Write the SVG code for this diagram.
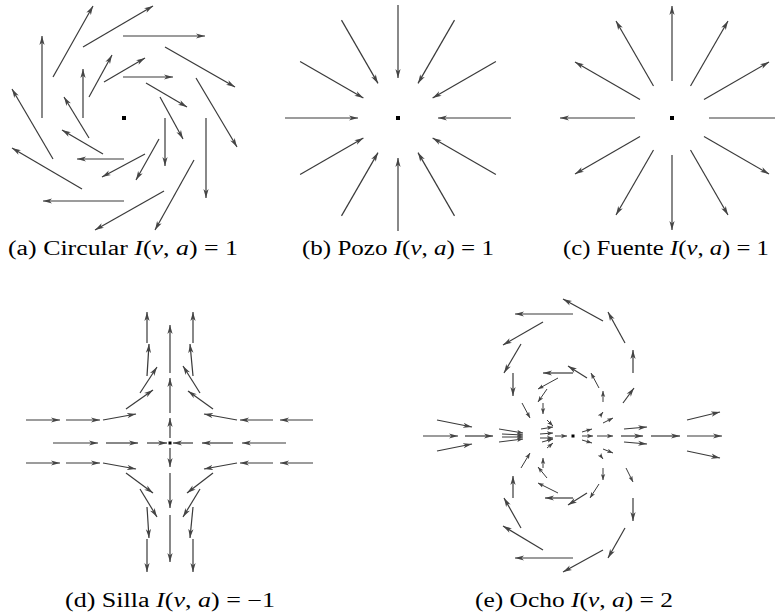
<svg xmlns="http://www.w3.org/2000/svg" width="775" height="616" viewBox="0 0 775 616">
<defs>
<marker id="ah" markerUnits="userSpaceOnUse" markerWidth="10" markerHeight="6" refX="9" refY="3" orient="auto">
<path d="M0,0.4 L9,3 L0,5.6 L2.5,3 Z" fill="#444"/>
</marker>
<marker id="as" markerUnits="userSpaceOnUse" markerWidth="7" markerHeight="5" refX="6" refY="2.5" orient="auto">
<path d="M0,0.3 L6,2.5 L0,4.7 L1.5,2.5 Z" fill="#444"/>
</marker>
</defs>
<style>
.v line{stroke:#3a3a3a;stroke-width:1.2;marker-end:url(#ah);fill:none}
.v.t line{stroke-width:1;marker-end:url(#as)}
.c{fill:#000}
text{font-family:"Liberation Serif","Times New Roman",serif;font-size:20px;fill:#000}
.i{font-style:italic}
</style>
<rect width="775" height="616" fill="#fff"/>

<g id="panel-a" class="v">
<line x1="123" y1="36" x2="205" y2="36"/>
<line x1="165" y1="47" x2="235" y2="87"/>
<line x1="196" y1="78" x2="237" y2="147"/>
<line x1="206" y1="118" x2="206" y2="198"/>
<line x1="194" y1="160" x2="155" y2="230"/>
<line x1="164" y1="191" x2="95" y2="230"/>
<line x1="124" y1="201" x2="43" y2="201"/>
<line x1="82" y1="189" x2="12" y2="148"/>
<line x1="53" y1="159" x2="12" y2="89"/>
<line x1="42" y1="118" x2="42" y2="36"/>
<line x1="53" y1="77" x2="93" y2="6"/>
<line x1="83" y1="47" x2="153" y2="6"/>
<line x1="123" y1="77" x2="173" y2="77"/>
<line x1="146" y1="83" x2="187" y2="107"/>
<line x1="160" y1="97" x2="183" y2="139"/>
<line x1="165" y1="118" x2="165" y2="166"/>
<line x1="159" y1="139" x2="136" y2="180"/>
<line x1="145" y1="154" x2="102" y2="177"/>
<line x1="124" y1="159" x2="77" y2="159"/>
<line x1="103" y1="154" x2="62" y2="130"/>
<line x1="89" y1="138" x2="64" y2="97"/>
<line x1="83" y1="118" x2="83" y2="69"/>
<line x1="89" y1="97" x2="112" y2="55"/>
<line x1="104" y1="82" x2="145" y2="58"/>
<rect class="c" x="122" y="116" width="4" height="4"/>
</g>

<g id="panel-b" class="v">
<line x1="511" y1="118" x2="438" y2="118"/>
<line x1="495.9" y1="61.5" x2="432.6" y2="98"/>
<line x1="454.5" y1="20.1" x2="418" y2="83.4"/>
<line x1="398" y1="5" x2="398" y2="78"/>
<line x1="341.5" y1="20.1" x2="378" y2="83.4"/>
<line x1="300.1" y1="61.5" x2="363.4" y2="98"/>
<line x1="285" y1="118" x2="358" y2="118"/>
<line x1="300.1" y1="174.5" x2="363.4" y2="138"/>
<line x1="341.5" y1="215.9" x2="378" y2="152.6"/>
<line x1="398" y1="231" x2="398" y2="158"/>
<line x1="454.5" y1="215.9" x2="418" y2="152.6"/>
<line x1="495.9" y1="174.5" x2="432.6" y2="138"/>
<rect class="c" x="396" y="116" width="4" height="4"/>
</g>

<g id="panel-c" class="v">
<line x1="709" y1="118" x2="784" y2="118"/>
<line x1="704" y1="99.5" x2="769" y2="62"/>
<line x1="690.5" y1="86" x2="728" y2="21"/>
<line x1="672" y1="81" x2="672" y2="6"/>
<line x1="653.5" y1="86" x2="616" y2="21"/>
<line x1="640" y1="99.5" x2="575" y2="62"/>
<line x1="635" y1="118" x2="560" y2="118"/>
<line x1="640" y1="136.5" x2="575" y2="174"/>
<line x1="653.5" y1="150" x2="616" y2="215"/>
<line x1="672" y1="155" x2="672" y2="230"/>
<line x1="690.5" y1="150" x2="728" y2="215"/>
<line x1="704" y1="136.5" x2="769" y2="174"/>
<rect class="c" x="670" y="116" width="4" height="4"/>
</g>

<g id="panel-d" class="v">
<line x1="53" y1="443" x2="98" y2="443"/>
<line x1="106" y1="443" x2="138" y2="443"/>
<line x1="147" y1="443" x2="167" y2="443"/>
<line x1="286" y1="443" x2="242" y2="443"/>
<line x1="233" y1="443" x2="202" y2="443"/>
<line x1="193" y1="443" x2="173" y2="443"/>
<line x1="26" y1="420" x2="60" y2="420"/>
<line x1="66" y1="420" x2="100" y2="420"/>
<line x1="103" y1="420" x2="136" y2="414"/>
<line x1="313" y1="420" x2="280" y2="420"/>
<line x1="273" y1="420" x2="240" y2="420"/>
<line x1="237" y1="420" x2="204" y2="414"/>
<line x1="26" y1="463" x2="60" y2="463"/>
<line x1="66" y1="463" x2="100" y2="463"/>
<line x1="103" y1="463" x2="136" y2="469"/>
<line x1="313" y1="463" x2="280" y2="463"/>
<line x1="273" y1="463" x2="240" y2="463"/>
<line x1="237" y1="463" x2="204" y2="469"/>
<line x1="170" y1="438" x2="170" y2="418"/>
<line x1="170" y1="413" x2="170" y2="378"/>
<line x1="170" y1="373" x2="170" y2="325"/>
<line x1="170" y1="448" x2="170" y2="467"/>
<line x1="170" y1="473" x2="170" y2="508"/>
<line x1="170" y1="515" x2="170" y2="562"/>
<line x1="147" y1="343" x2="147" y2="312"/>
<line x1="147" y1="376" x2="149" y2="344"/>
<line x1="140" y1="393" x2="157" y2="367"/>
<line x1="126" y1="409" x2="153" y2="390"/>
<line x1="126" y1="473" x2="153" y2="493"/>
<line x1="140" y1="489" x2="157" y2="517"/>
<line x1="147" y1="507" x2="149" y2="538"/>
<line x1="147" y1="539" x2="147" y2="572"/>
<line x1="193" y1="343" x2="193" y2="312"/>
<line x1="193" y1="376" x2="190" y2="344"/>
<line x1="200" y1="393" x2="183" y2="366"/>
<line x1="213" y1="409" x2="188" y2="391"/>
<line x1="213" y1="473" x2="187" y2="493"/>
<line x1="200" y1="489" x2="183" y2="517"/>
<line x1="193" y1="507" x2="190" y2="538"/>
<line x1="193" y1="539" x2="193" y2="572"/>
<rect class="c" x="168.5" y="441.5" width="3" height="3"/>
</g>

<g id="panel-e" class="v">
<line x1="423" y1="436" x2="458" y2="436"/>
<line x1="465" y1="436" x2="493" y2="436"/>
<line x1="437" y1="420" x2="472" y2="427"/>
<line x1="437" y1="451" x2="472" y2="444"/>
<line x1="687" y1="436" x2="722" y2="436"/>
<line x1="651" y1="436" x2="680" y2="436"/>
<line x1="687" y1="420" x2="720" y2="412"/>
<line x1="687" y1="451" x2="720" y2="458"/>
<line x1="621" y1="436" x2="643" y2="436"/>
<line x1="624" y1="429" x2="647" y2="427"/>
<line x1="624" y1="442" x2="647" y2="444"/>
<line x1="633" y1="373" x2="633" y2="350"/>
<line x1="625" y1="343" x2="608" y2="312"/>
<line x1="603" y1="321" x2="563" y2="299"/>
<line x1="573" y1="314" x2="515" y2="314"/>
<line x1="543" y1="322" x2="503" y2="345"/>
<line x1="521" y1="344" x2="504" y2="373"/>
<line x1="513" y1="373" x2="513" y2="396"/>
<line x1="623" y1="403" x2="634" y2="388"/>
<line x1="513" y1="498" x2="513" y2="476"/>
<line x1="521" y1="528" x2="504" y2="498"/>
<line x1="543" y1="550" x2="503" y2="526"/>
<line x1="573" y1="558" x2="515" y2="558"/>
<line x1="603" y1="550" x2="563" y2="572"/>
<line x1="625" y1="528" x2="608" y2="558"/>
<line x1="633" y1="498" x2="633" y2="521"/>
<line x1="573" y1="373" x2="543" y2="373"/>
<line x1="587" y1="378" x2="568" y2="366"/>
<line x1="573" y1="498" x2="545" y2="498"/>
<line x1="587" y1="493" x2="568" y2="505"/>
<rect class="c" x="571.5" y="434.5" width="3" height="3"/>
</g>
<g id="panel-e-small" class="v t">
<line x1="499" y1="429" x2="523" y2="433"/>
<line x1="502" y1="434" x2="523" y2="435"/>
<line x1="502" y1="437" x2="523" y2="437"/>
<line x1="499" y1="442" x2="523" y2="439"/>
<line x1="522" y1="403" x2="530" y2="418"/>
<line x1="521" y1="468" x2="530" y2="453"/>
<line x1="626" y1="468" x2="633" y2="482"/>
<line x1="603" y1="402" x2="603" y2="391"/>
<line x1="599" y1="388" x2="591" y2="373"/>
<line x1="558" y1="378" x2="538" y2="389"/>
<line x1="547" y1="389" x2="538" y2="402"/>
<line x1="543" y1="403" x2="543" y2="414"/>
<line x1="603" y1="468" x2="603" y2="480"/>
<line x1="599" y1="484" x2="590" y2="498"/>
<line x1="558" y1="493" x2="538" y2="483"/>
<line x1="547" y1="478" x2="538" y2="467"/>
<line x1="543" y1="468" x2="543" y2="458"/>
<line x1="547" y1="420" x2="553" y2="426"/>
<line x1="541" y1="429" x2="553" y2="427"/>
<line x1="540" y1="434" x2="553" y2="433"/>
<line x1="540" y1="438" x2="553" y2="438"/>
<line x1="542" y1="442" x2="553" y2="439"/>
<line x1="547" y1="448" x2="553" y2="443"/>
<line x1="555" y1="436" x2="567" y2="436"/>
<line x1="582" y1="432" x2="592" y2="429"/>
<line x1="582" y1="436" x2="593" y2="436"/>
<line x1="582" y1="440" x2="592" y2="443"/>
<line x1="597" y1="436" x2="613" y2="436"/>
<line x1="600" y1="416" x2="603" y2="412"/>
<line x1="603" y1="423" x2="613" y2="418"/>
<line x1="603" y1="449" x2="613" y2="453"/>
<line x1="600" y1="455" x2="603" y2="459"/>
</g>

<g id="captions">
<text x="123" y="255" text-anchor="middle" textLength="230" lengthAdjust="spacingAndGlyphs">(a) Circular <tspan class="i">I</tspan>(<tspan class="i">v</tspan>, <tspan class="i">a</tspan>) = 1</text>
<text x="398" y="255" text-anchor="middle" textLength="192" lengthAdjust="spacingAndGlyphs">(b) Pozo <tspan class="i">I</tspan>(<tspan class="i">v</tspan>, <tspan class="i">a</tspan>) = 1</text>
<text x="666" y="255" text-anchor="middle" textLength="206" lengthAdjust="spacingAndGlyphs">(c) Fuente <tspan class="i">I</tspan>(<tspan class="i">v</tspan>, <tspan class="i">a</tspan>) = 1</text>
<text x="170" y="607" text-anchor="middle" textLength="210" lengthAdjust="spacingAndGlyphs">(d) Silla <tspan class="i">I</tspan>(<tspan class="i">v</tspan>, <tspan class="i">a</tspan>) = −1</text>
<text x="574" y="607" text-anchor="middle" textLength="198" lengthAdjust="spacingAndGlyphs">(e) Ocho <tspan class="i">I</tspan>(<tspan class="i">v</tspan>, <tspan class="i">a</tspan>) = 2</text>
</g>
</svg>
